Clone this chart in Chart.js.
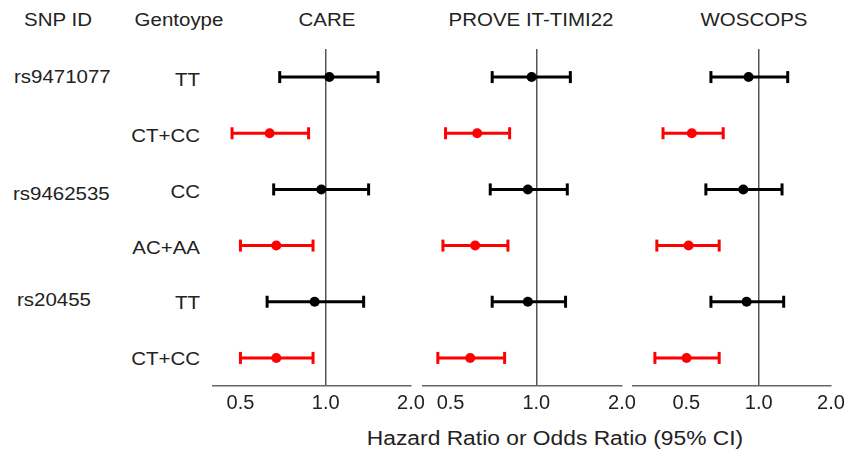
<!DOCTYPE html>
<html><head><meta charset="utf-8">
<script src="https://cdn.jsdelivr.net/npm/chart.js@4.4.1/dist/chart.umd.min.js"></script>
<style>
html,body{margin:0;padding:0;background:#fff;}
#wrap{position:relative;width:858px;height:452px;overflow:hidden;font-family:'Liberation Sans',Arial,sans-serif;color:#222;}
.t{position:absolute;font-size:18.8px;line-height:1;white-space:nowrap;}
.c{transform-origin:center center;transform:translate(-50%,-50%) scaleX(1.09);}
.r{transform-origin:right center;transform:translate(-100%,-50%) scaleX(1.09);}
.l{transform-origin:left center;transform:translate(0,-50%) scaleX(1.09);}
.ax{font-size:20px;transform-origin:center center;transform:translate(-50%,-50%) scaleX(1.14);}
canvas{position:absolute;top:0;}
</style></head><body><div id="wrap"></div>
<script>
// ---- data ----
const studies = ['CARE', 'PROVE IT-TIMI22', 'WOSCOPS'];
const snpIds = ['rs9471077', 'rs9462535', 'rs20455'];
const genotypes = ['TT', 'CT+CC', 'CC', 'AC+AA', 'TT', 'CT+CC'];
const tickValues = [0.5, 1, 2];
const tickLabels = ['0.5', '1.0', '2.0'];
const axisTitle = 'Hazard Ratio or Odds Ratio (95% CI)';

const careHR = [1.03, 0.634, 0.965, 0.669, 0.914, 0.669];
const careLo = [0.688, 0.467, 0.655, 0.500, 0.621, 0.500];
const careHi = [1.53, 0.870, 1.417, 0.902, 1.361, 0.902];

const proveHR = [0.963, 0.620, 0.934, 0.610, 0.934, 0.586];
const proveLo = [0.700, 0.480, 0.689, 0.470, 0.700, 0.451];
const proveHi = [1.317, 0.806, 1.285, 0.795, 1.267, 0.774];

const woscopsHR = [0.908, 0.527, 0.863, 0.511, 0.891, 0.501];
const woscopsLo = [0.633, 0.400, 0.603, 0.377, 0.633, 0.370];
const woscopsHi = [1.321, 0.712, 1.251, 0.685, 1.271, 0.685];

const axisMin = [0.4, 0.4, 0.3];
const axisMax = [2, 2, 2];

// ---- layout ----
const wrap = document.getElementById('wrap');
function addText(txt, x, y, cls) {
  const d = document.createElement('div');
  d.className = 't ' + cls;
  d.textContent = txt;
  d.style.left = x + 'px';
  d.style.top = y + 'px';
  wrap.appendChild(d);
}
addText('SNP ID', 58, 20, 'c');
addText('Gentoype', 178.5, 20, 'c');
const headerX = [326.7, 530.5, 754];
studies.forEach((s, i) => addText(s, headerX[i], 20, 'c'));
const snpLeft = [14, 13, 17];
const snpY = [77, 194, 300];
snpIds.forEach((s, i) => addText(s, snpLeft[i], snpY[i], 'l'));
const rowY = [79.5, 135.5, 191.5, 247.5, 303, 359];
genotypes.forEach((g, i) => addText(g, 199.5, rowY[i], 'r'));
addText(axisTitle, 555, 438, 'ax');

Chart.defaults.font.family = "'Liberation Sans', Arial, sans-serif";

const panelArea = [[212.7, 410.7], [423.3, 622.7], [632.7, 830.7]];
const panelData = [[careHR, careLo, careHi], [proveHR, proveLo, proveHi], [woscopsHR, woscopsLo, woscopsHi]];

panelData.forEach(([hr, lo, hi], i) => {
  const pad = 20;
  const [x0, x1] = panelArea[i];
  const cv = document.createElement('canvas');
  const w = Math.round(x1 - x0) + 2 * pad;
  cv.width = w; cv.height = 452;
  cv.style.width = w + 'px'; cv.style.height = '452px';
  cv.style.left = (x0 - pad) + 'px';
  wrap.appendChild(cv);
  const colorOf = r => (r % 2 === 0 ? '#000000' : '#ff0000');
  const datasets = [{
    data: hr.map((v, r) => ({ x: v, y: r })),
    pointRadius: 5,
    pointHoverRadius: 5,
    pointBackgroundColor: hr.map((v, r) => colorOf(r)),
    pointBorderColor: hr.map((v, r) => colorOf(r)),
    pointBorderWidth: 0,
    showLine: false
  }];
  hr.forEach((v, r) => {
    const col = colorOf(r);
    datasets.push({
      data: [{ x: lo[r], y: r }, { x: hi[r], y: r }],
      showLine: true,
      borderColor: col,
      borderWidth: 3,
      pointStyle: 'line',
      pointRotation: 90,
      pointRadius: 6,
      pointHoverRadius: 6,
      pointBorderWidth: 3,
      pointBorderColor: col,
      pointBackgroundColor: col,
      tension: 0,
      fill: false
    });
  });
  new Chart(cv, {
    type: 'scatter',
    data: { datasets },
    options: {
      responsive: false,
      animation: false,
      devicePixelRatio: 1,
      events: [],
      layout: { padding: { left: pad, right: pad, top: 49, bottom: 0 } },
      plugins: { legend: { display: false }, tooltip: { enabled: false } },
      scales: {
        x: {
          type: 'logarithmic',
          min: axisMin[i],
          max: axisMax[i],
          position: 'bottom',
          afterBuildTicks: s => { s.ticks = tickValues.map(v => ({ value: v })); },
          afterFit: s => { s.height = 66; },
          ticks: {
            callback: v => { const k = tickValues.indexOf(v); return k >= 0 ? tickLabels[k] : ''; },
            color: '#222',
            font: { size: 20 },
            padding: 5,
            maxRotation: 0,
            autoSkip: false
          },
          grid: {
            drawTicks: false,
            color: c => (c.tick && c.tick.value === 1 ? '#555555' : 'rgba(0,0,0,0)'),
            lineWidth: 1.5
          },
          border: { display: true, color: '#666666', width: 1.5 }
        },
        y: { type: 'linear', min: -0.5, max: 5.5, reverse: true, display: false }
      }
    }
  });
});
</script>
</body></html>
